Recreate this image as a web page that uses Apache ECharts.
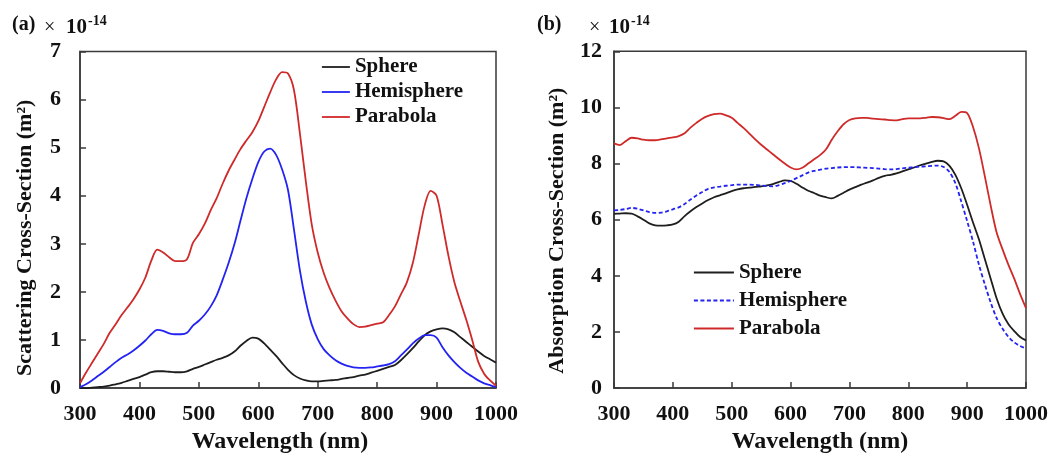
<!DOCTYPE html>
<html>
<head>
<meta charset="utf-8">
<script src="https://cdn.jsdelivr.net/npm/echarts@6/dist/echarts.min.js"></script>
<style>html,body{margin:0;padding:0;background:#fff}#c{width:1051px;height:459px}</style>
</head>
<body>
<div id="c"></div>
<script>
// Wavelength grid (nm), shared by both panels
const wavelengths = [300,310,320,330,340,350,360,370,380,390,400,410,420,430,440,450,460,470,480,490,500,510,520,530,540,550,560,570,580,590,600,610,620,630,640,650,660,670,680,690,700,710,720,730,740,750,760,770,780,790,800,810,820,830,840,850,860,870,880,890,900,910,920,930,940,950,960,970,980,990,1000];
const seriesNames = ['Sphere','Hemisphere','Parabola'];
const xTicks = [300,400,500,600,700,800,900,1000];

// (a) Scattering cross-section, ×10^-14 m^2
const scatSphere = [0.00,0.00,0.01,0.02,0.03,0.05,0.08,0.11,0.15,0.19,0.23,0.28,0.33,0.35,0.35,0.34,0.33,0.33,0.35,0.40,0.44,0.49,0.54,0.59,0.63,0.68,0.76,0.88,0.98,1.05,1.03,0.93,0.80,0.67,0.52,0.38,0.27,0.20,0.16,0.14,0.14,0.15,0.16,0.17,0.19,0.21,0.23,0.26,0.28,0.32,0.36,0.40,0.44,0.48,0.58,0.70,0.83,0.97,1.10,1.18,1.22,1.24,1.22,1.16,1.06,0.96,0.86,0.76,0.67,0.60,0.53];
const scatHemisphere = [0.02,0.08,0.16,0.25,0.34,0.44,0.54,0.63,0.70,0.78,0.88,0.99,1.12,1.21,1.19,1.14,1.12,1.12,1.15,1.30,1.40,1.53,1.70,1.93,2.25,2.60,3.00,3.48,3.95,4.35,4.70,4.92,4.98,4.85,4.55,4.12,3.30,2.45,1.80,1.32,1.02,0.81,0.68,0.58,0.51,0.46,0.43,0.42,0.42,0.43,0.45,0.47,0.50,0.56,0.68,0.80,0.93,1.03,1.10,1.10,1.05,0.85,0.68,0.54,0.42,0.32,0.24,0.16,0.10,0.06,0.02];
const scatParabola = [0.10,0.32,0.52,0.72,0.92,1.15,1.33,1.52,1.68,1.85,2.05,2.30,2.65,2.88,2.82,2.72,2.64,2.64,2.68,3.02,3.20,3.42,3.70,3.95,4.25,4.52,4.75,4.97,5.15,5.32,5.55,5.85,6.15,6.42,6.57,6.54,6.20,5.30,4.30,3.40,2.82,2.40,2.08,1.82,1.60,1.45,1.33,1.27,1.28,1.31,1.34,1.37,1.52,1.70,1.95,2.20,2.60,3.20,3.80,4.10,4.00,3.40,2.75,2.20,1.80,1.42,1.00,0.55,0.30,0.16,0.05];

// (b) Absorption cross-section, ×10^-14 m^2
const absSphere = [6.21,6.22,6.23,6.22,6.12,6.00,5.87,5.80,5.79,5.80,5.83,5.93,6.13,6.30,6.45,6.58,6.70,6.80,6.87,6.94,7.02,7.08,7.12,7.14,7.17,7.19,7.22,7.27,7.34,7.40,7.38,7.28,7.15,7.03,6.95,6.86,6.80,6.76,6.85,6.96,7.07,7.16,7.25,7.32,7.40,7.49,7.56,7.60,7.65,7.72,7.79,7.86,7.94,8.00,8.06,8.10,8.08,7.92,7.60,7.12,6.53,5.90,5.30,4.60,3.90,3.20,2.66,2.28,2.03,1.82,1.70];
const absHemisphere = [6.33,6.35,6.38,6.42,6.39,6.33,6.27,6.24,6.25,6.30,6.37,6.44,6.56,6.72,6.86,6.99,7.10,7.15,7.18,7.21,7.23,7.25,7.25,7.25,7.24,7.22,7.20,7.19,7.23,7.30,7.38,7.48,7.58,7.68,7.74,7.78,7.82,7.84,7.86,7.87,7.87,7.87,7.86,7.85,7.84,7.82,7.80,7.79,7.80,7.83,7.85,7.87,7.89,7.90,7.92,7.93,7.88,7.70,7.30,6.65,5.95,5.22,4.40,3.70,3.05,2.50,2.12,1.83,1.63,1.50,1.41];
const absParabola = [8.72,8.66,8.80,8.92,8.90,8.85,8.83,8.83,8.86,8.90,8.93,8.98,9.08,9.28,9.45,9.60,9.70,9.76,9.78,9.72,9.63,9.45,9.27,9.07,8.86,8.67,8.50,8.33,8.16,8.00,7.86,7.79,7.85,8.00,8.15,8.30,8.50,8.85,9.15,9.40,9.55,9.61,9.63,9.63,9.60,9.58,9.57,9.55,9.54,9.58,9.61,9.61,9.61,9.63,9.66,9.65,9.62,9.58,9.70,9.84,9.80,9.30,8.55,7.55,6.50,5.55,4.95,4.40,3.90,3.35,2.85];

const COL = {Sphere:'#1e1e1e', Hemisphere:'#2323f2', Parabola:'#cf2a2a'};
const SERIF = '"Liberation Serif","DejaVu Serif",serif';
const AX = '#3a3a3a';
const DASH = [4,2.5];

function pairs(ys){ return wavelengths.map((w,i)=>[w,ys[i]]); }

function xAxis(gi,shift){
  return {
    type:'value', gridIndex:gi, min:300, max:1000, interval:100,
    name:'Wavelength (nm)', nameLocation:'middle', nameGap:36,
    nameTextStyle:{fontFamily:SERIF, fontWeight:'bold', fontSize:24, color:'#111', padding:[0,shift,0,0]},
    axisLine:{lineStyle:{color:AX,width:1.5}},
    axisTick:{inside:true,length:6,lineStyle:{color:AX,width:1.5}},
    axisLabel:{fontFamily:SERIF, fontWeight:'bold', fontSize:22, color:'#111', margin:15,
      formatter:v=>xTicks.indexOf(v)>=0?String(v):''},
    splitLine:{show:false}
  };
}
function yAxis(gi,max,interval,name,margin,gap,shift){
  return {
    type:'value', gridIndex:gi, min:0, max:max, interval:interval,
    name:name, nameLocation:'middle', nameGap:gap,
    nameTextStyle:{fontFamily:SERIF, fontWeight:'bold', fontSize:22, color:'#111', padding:[0,shift,0,0]},
    axisLine:{lineStyle:{color:AX,width:1.5}},
    axisTick:{inside:true,length:6,lineStyle:{color:AX,width:1.5}},
    axisLabel:{fontFamily:SERIF, fontWeight:'bold', fontSize:22, color:'#111', margin:margin},
    splitLine:{show:false}
  };
}
function line(name,data,gi,dashed){
  return {
    type:'line', name:name, xAxisIndex:gi, yAxisIndex:gi, data:pairs(data),
    smooth:0.3, symbol:'none', animation:false,
    lineStyle:{color:COL[name], width:1.8, type: dashed?DASH:'solid'},
    itemStyle:{color:COL[name]}
  };
}
function legend(left,top,w,gap,dashHemi){
  return {
    left:left, top:top, orient:'vertical', padding:0, itemWidth:w, itemHeight:10, itemGap:gap,
    itemStyle:{opacity:0, borderWidth:0},
    textStyle:{fontFamily:SERIF, fontWeight:'bold', fontSize:21, color:'#111'},
    data:seriesNames.map(n=>({name:n,
      lineStyle:{color:COL[n], width:1.8, type:(dashHemi&&n==='Hemisphere')?DASH:'solid'}})),
    selectedMode:false
  };
}

const chart = echarts.init(document.getElementById('c'), null, {renderer:'canvas'});
chart.setOption({
  backgroundColor:'#fff',
  animation:false,
  grid:[
    {left:80, top:51.5, width:416, height:349, show:true, borderColor:AX, borderWidth:1.5},
    {left:614, top:51.3, width:412, height:348, show:true, borderColor:AX, borderWidth:1.5}
  ],
  xAxis:[xAxis(0,16), xAxis(1,0)],
  yAxis:[
    yAxis(0,7,1,'Scattering Cross-Section (m\u00B2)',19,44,36),
    yAxis(1,12,2,'Absorption Cross-Section (m\u00B2)',12,46,22)
  ],
  legend:[legend(321,56.5,28,4,false), legend(693,262,40,7,true)],
  graphic:[
    {type:'text', left:12, top:15, style:{text:'(a)', font:'bold 20px '+SERIF, fill:'#111'}},
    {type:'text', left:44, top:18, style:{text:'\u00D7', font:'20px '+SERIF, fill:'#111'}},
    {type:'text', left:66, top:17, style:{text:'10', font:'bold 21px '+SERIF, fill:'#111'}},
    {type:'text', left:88, top:14, style:{text:'-14', font:'bold 14px '+SERIF, fill:'#111'}},
    {type:'text', left:537, top:15, style:{text:'(b)', font:'bold 20px '+SERIF, fill:'#111'}},
    {type:'text', left:589, top:18, style:{text:'\u00D7', font:'20px '+SERIF, fill:'#111'}},
    {type:'text', left:609, top:17, style:{text:'10', font:'bold 21px '+SERIF, fill:'#111'}},
    {type:'text', left:631, top:14, style:{text:'-14', font:'bold 14px '+SERIF, fill:'#111'}}
  ],
  series:[
    line('Sphere',scatSphere,0),
    line('Hemisphere',scatHemisphere,0),
    line('Parabola',scatParabola,0),
    line('Sphere',absSphere,1),
    line('Hemisphere',absHemisphere,1,true),
    line('Parabola',absParabola,1)
  ]
});
</script>
</body>
</html>
